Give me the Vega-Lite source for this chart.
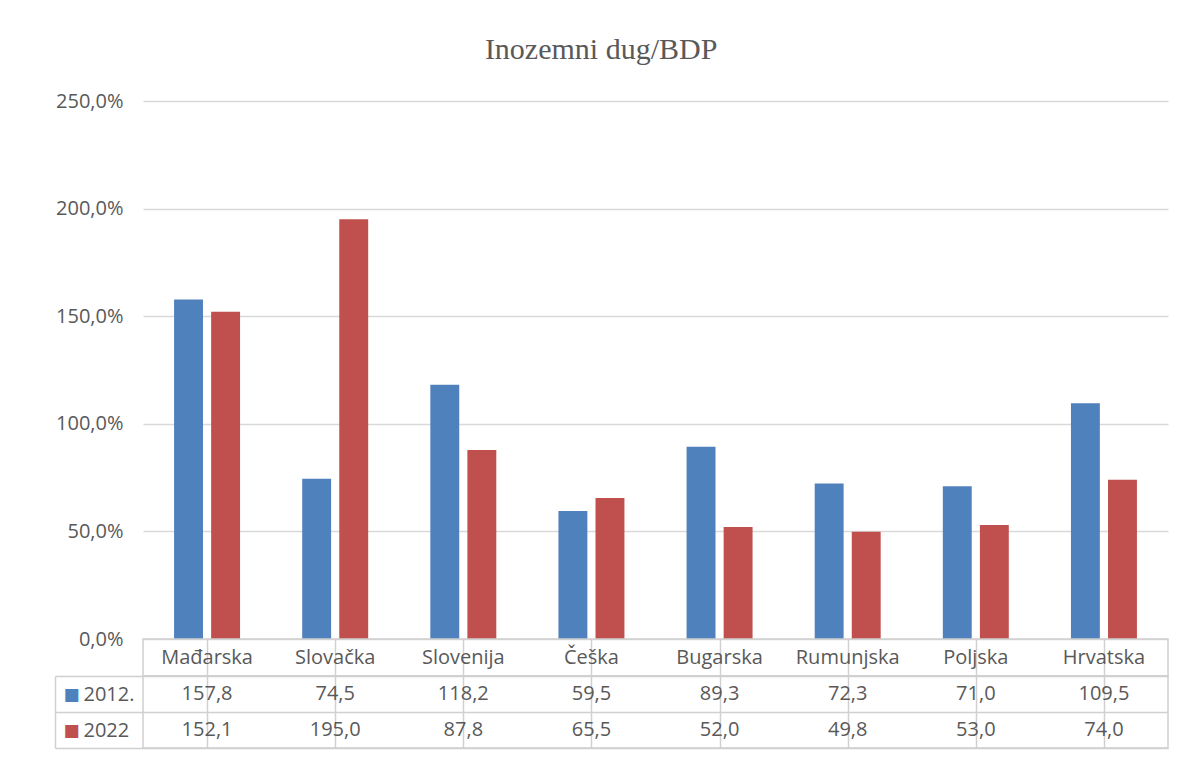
{
  "$schema": "https://vega.github.io/schema/vega-lite/v6.json",
  "padding": {"left": 53, "top": 35, "right": 10, "bottom": 5},
  "config": {
    "locale": {"number": {"decimal": ",", "thousands": ".", "grouping": [3], "currency": ["", " €"]}},
    "font": "Open Sans",
    "text": {"font": "Open Sans", "fontSize": 20, "color": "#595959"},
    "axis": {"labelFont": "Open Sans", "labelFontSize": 20, "labelColor": "#595959"}
  },
  "title": {"text": "Inozemni dug/BDP", "font": "Liberation Serif", "fontSize": 30, "fontWeight": "normal", "color": "#595959", "anchor": "middle", "dx": -10, "offset": 26},
  "datasets": {
    "d": [
      {"country": "Mađarska", "series": "2012.", "value": 157.8},
      {"country": "Mađarska", "series": "2022", "value": 152.1},
      {"country": "Slovačka", "series": "2012.", "value": 74.5},
      {"country": "Slovačka", "series": "2022", "value": 195.0},
      {"country": "Slovenija", "series": "2012.", "value": 118.2},
      {"country": "Slovenija", "series": "2022", "value": 87.8},
      {"country": "Češka", "series": "2012.", "value": 59.5},
      {"country": "Češka", "series": "2022", "value": 65.5},
      {"country": "Bugarska", "series": "2012.", "value": 89.3},
      {"country": "Bugarska", "series": "2022", "value": 52.0},
      {"country": "Rumunjska", "series": "2012.", "value": 72.3},
      {"country": "Rumunjska", "series": "2022", "value": 49.8},
      {"country": "Poljska", "series": "2012.", "value": 71.0},
      {"country": "Poljska", "series": "2022", "value": 53.0},
      {"country": "Hrvatska", "series": "2012.", "value": 109.5},
      {"country": "Hrvatska", "series": "2022", "value": 74.0}
    ]
  },
  "vconcat": [
    {
      "width": 1025,
      "height": 538,
      "data": {"name": "d"},
      "view": {"stroke": null},
      "mark": {"type": "bar"},
      "encoding": {
        "x": {"field": "country", "type": "nominal", "sort": ["Mađarska", "Slovačka", "Slovenija", "Češka", "Bugarska", "Rumunjska", "Poljska", "Hrvatska"], "scale": {"paddingInner": 0.485, "paddingOuter": 0.2425}, "axis": null},
        "xOffset": {"field": "series", "type": "nominal", "scale": {"paddingInner": 0.22, "paddingOuter": 0}},
        "y": {"field": "value", "type": "quantitative", "scale": {"domain": [0, 250], "nice": false, "zero": true},
          "axis": {"values": [0, 50, 100, 150, 200, 250], "format": ".1f", "labelExpr": "datum.label + '%'", "title": null, "domain": false, "ticks": false, "labelPadding": 20, "grid": true, "gridColor": "#d9d9d9", "gridWidth": 1.5}},
        "color": {"field": "series", "type": "nominal", "scale": {"domain": ["2012.", "2022"], "range": ["#4f81bd", "#c0504d"]}, "legend": null}
      }
    },
    {
      "width": 1025,
      "height": 37,
      "data": {"name": "d"},
      "transform": [{"filter": "datum.series == '2012.'"}],
      "view": {"stroke": "#d0d0d0", "strokeWidth": 1.5},
      "mark": {"type": "text", "baseline": "middle", "align": "center"},
      "encoding": {
        "x": {"field": "country", "type": "nominal", "sort": ["Mađarska", "Slovačka", "Slovenija", "Češka", "Bugarska", "Rumunjska", "Poljska", "Hrvatska"], "scale": {"paddingInner": 0, "paddingOuter": 0},
          "axis": {"bandPosition": 0, "grid": true, "gridColor": "#d0d0d0", "gridWidth": 1.5, "labels": false, "ticks": false, "domain": false, "title": null}},
        "text": {"field": "country", "type": "nominal"}
      }
    },
    {
      "width": 1025,
      "height": 72,
      "data": {"name": "d"},
      "view": {"stroke": "#d0d0d0", "strokeWidth": 1.5},
      "resolve": {"scale": {"y": "independent"}, "axis": {"y": "independent"}},
      "layer": [
        {
          "mark": {"type": "text", "baseline": "middle", "align": "center"},
          "encoding": {
            "x": {"field": "country", "type": "nominal", "sort": ["Mađarska", "Slovačka", "Slovenija", "Češka", "Bugarska", "Rumunjska", "Poljska", "Hrvatska"], "scale": {"paddingInner": 0, "paddingOuter": 0},
              "axis": {"bandPosition": 0, "grid": true, "gridColor": "#d0d0d0", "gridWidth": 1.5, "labels": false, "ticks": false, "domain": false, "title": null}},
            "y": {"field": "series", "type": "nominal", "scale": {"domain": ["2012.", "2022"], "paddingInner": 0, "paddingOuter": 0},
              "axis": {"orient": "left", "tickBand": "extent", "grid": true, "gridColor": "#d0d0d0", "gridWidth": 1.5, "ticks": true, "tickSize": 88, "tickColor": "#d0d0d0", "tickWidth": 1.5, "domain": false, "labelAlign": "left", "labelBaseline": "middle", "labelPadding": -28, "title": null}},
            "text": {"field": "value", "type": "quantitative", "format": ".1f"}
          }
        },
        {
          "mark": {"type": "text", "opacity": 0},
          "encoding": {
            "y": {"field": "series", "type": "nominal", "scale": {"domain": ["2012.", "2022"], "paddingInner": 0, "paddingOuter": 0},
              "axis": {"orient": "left", "grid": false, "ticks": false, "domain": false, "labelExpr": "'■'", "labelFont": "DejaVu Sans", "labelFontSize": 17, "labelColor": {"condition": {"test": "datum.value == '2012.'", "value": "#4f81bd"}, "value": "#c0504d"}, "labelAlign": "left", "labelBaseline": "middle", "labelPadding": 80, "title": null}},
            "text": {"field": "value", "type": "quantitative"}
          }
        },
        {
          "mark": {"type": "text", "opacity": 0},
          "encoding": {
            "y": {"field": "series", "type": "nominal", "scale": {"domain": ["2012.", "2022"], "paddingInner": 0, "paddingOuter": 0},
              "axis": {"orient": "left", "offset": 88, "grid": false, "ticks": false, "labels": false, "domain": true, "domainColor": "#d0d0d0", "domainWidth": 1.5, "title": null}},
            "text": {"field": "value", "type": "quantitative"}
          }
        }
      ]
    }
  ],
  "spacing": 0,
  "bounds": "flush",
  "resolve": {"scale": {"x": "independent", "y": "independent", "color": "shared"}}
}
